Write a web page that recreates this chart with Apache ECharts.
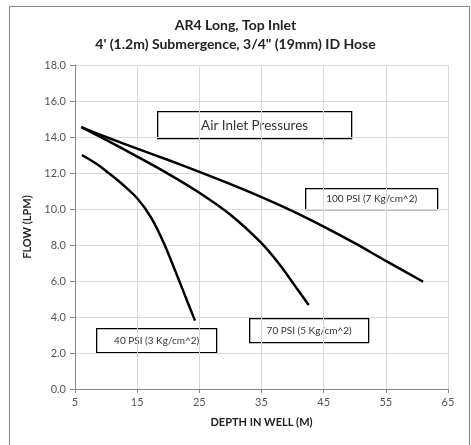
<!DOCTYPE html>
<html><head><meta charset="utf-8">
<script src="https://cdn.jsdelivr.net/npm/echarts@6/dist/echarts.min.js"></script>
<style>html,body{margin:0;padding:0;background:#fff}#c{width:471px;height:445px}</style>
</head><body><div id="c"></div>
<script>
const titleLines = ["AR4 Long, Top Inlet", "4' (1.2m) Submergence, 3/4\" (19mm) ID Hose"];
const xName = "DEPTH IN WELL (M)";
const yName = "FLOW (LPM)";
const seriesNames = ["100 PSI (7 Kg/cm^2)", "70 PSI (5 Kg/cm^2)", "40 PSI (3 Kg/cm^2)"];
const psi100 = [[6.0,14.55],[10,14.0],[15,13.35],[20,12.72],[25,12.06],[30,11.38],[35,10.66],[40,9.88],[45,9.02],[50,8.1],[55,7.12],[61.0,5.96]];
const psi70 = [[6.0,14.55],[10,13.84],[15,12.91],[20,11.95],[25,10.9],[30,9.68],[35,8.1],[38,6.88],[40,5.92],[42.6,4.67]];
const psi40 = [[6.1,13.0],[8.5,12.5],[10.4,12.0],[12.7,11.35],[15,10.6],[17.2,9.55],[19.3,8.1],[21.6,6.15],[23.2,4.75],[24.3,3.8]];
const legendTitle = "Air Inlet Pressures";

const font = "Lato, 'Open Sans', sans-serif";
function box(x, y, w, h, text, size) {
  return {
    type: 'group', left: x, top: y,
    children: [
      {type: 'rect', shape: {x: 0, y: 0, width: w, height: h}, style: {fill: '#fff', stroke: '#000', lineWidth: 1.3}},
      {type: 'text', x: w / 2, y: h / 2, style: {text: text, fill: '#333', font: size + 'px ' + font, textAlign: 'center', textVerticalAlign: 'middle'}}
    ]
  };
}
const chart = echarts.init(document.getElementById('c'));
const mk = (name, data) => ({
  name, type: 'line', data, smooth: 0.3, showSymbol: false,
  lineStyle: {color: '#000', width: 2.5}, z: 3
});
chart.setOption({
  animation: false,
  title: {
    text: titleLines.join('\n'), left: 'center', top: 11,
    textStyle: {fontFamily: font, fontWeight: 'bold', fontSize: 14, color: '#222', lineHeight: 19}
  },
  grid: {left: 75, right: 23, top: 65, bottom: 56},
  xAxis: {
    type: 'value', min: 5, max: 65, interval: 10,
    name: xName, nameLocation: 'middle', nameGap: 28,
    nameTextStyle: {fontFamily: font, fontWeight: 'bold', fontSize: 11, color: '#222'},
    axisLine: {show: true, lineStyle: {color: '#888'}},
    axisTick: {show: true, length: 4, lineStyle: {color: '#888'}},
    axisLabel: {fontFamily: font, fontSize: 11, color: '#555', margin: 8},
    splitLine: {show: true, lineStyle: {color: '#d9d9d9'}}
  },
  yAxis: {
    type: 'value', min: 0, max: 18, interval: 2,
    name: yName, nameLocation: 'middle', nameGap: 39, nameRotate: 90,
    nameTextStyle: {fontFamily: font, fontWeight: 'bold', fontSize: 11, color: '#222'},
    axisLine: {show: true, lineStyle: {color: '#888'}},
    axisTick: {show: true, length: 5, lineStyle: {color: '#888'}},
    axisLabel: {fontFamily: font, fontSize: 11, color: '#555', margin: 9, formatter: v => v.toFixed(1)},
    splitLine: {show: true, lineStyle: {color: '#d9d9d9'}}
  },
  series: [mk(seriesNames[0], psi100), mk(seriesNames[1], psi70), mk(seriesNames[2], psi40)],
  graphic: [
    {type: 'rect', left: 7, top: 4, shape: {x: 0, y: 0, width: 460, height: 450}, style: {fill: 'none', stroke: '#888', lineWidth: 1}, z: -1},
    box(157, 111, 194, 27, legendTitle, 13.5),
    box(305, 188, 132, 21, seriesNames[0], 10),
    box(249, 318, 119, 24, seriesNames[1], 10),
    box(96, 328, 120, 24, seriesNames[2], 10)
  ]
});
</script></body></html>
